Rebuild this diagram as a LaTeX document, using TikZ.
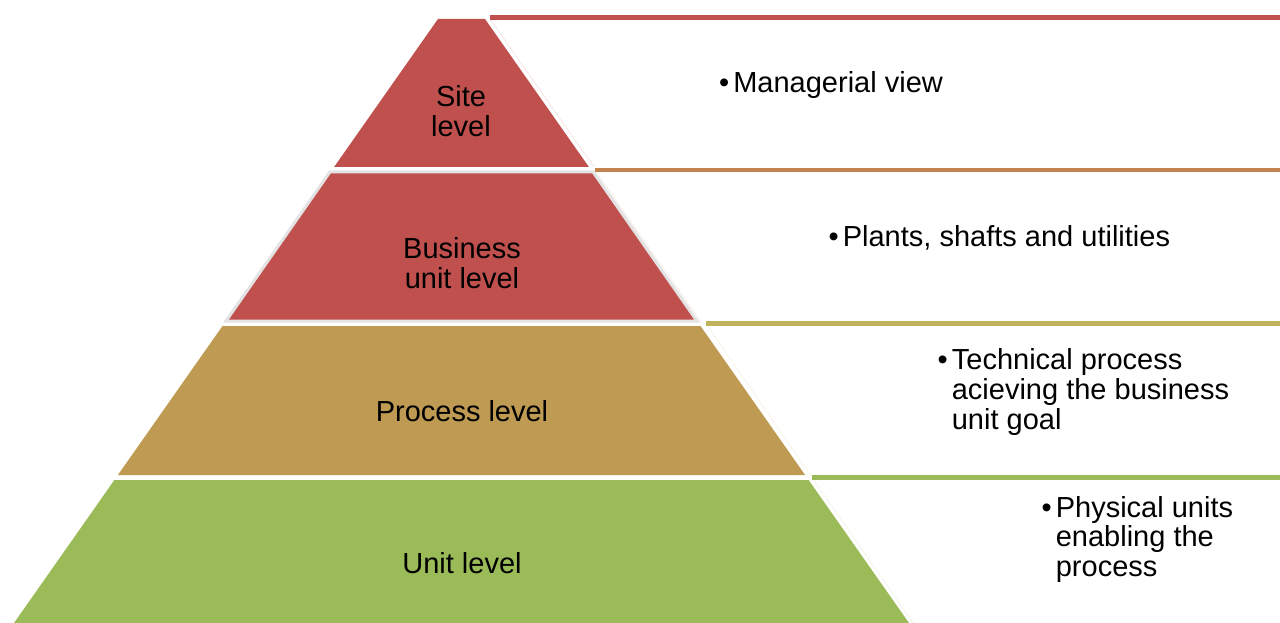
\documentclass[tikz,border=0pt]{standalone}
\usepackage{fontspec}
\setmainfont{Liberation Sans}
\definecolor{sitered}{HTML}{C0504D}
\definecolor{procgold}{HTML}{BE9A52}
\definecolor{unitgreen}{HTML}{9BBB59}
\definecolor{lineorange}{HTML}{C38450}
\definecolor{lineolive}{HTML}{BFB25A}
\definecolor{edgegray}{HTML}{E3E3E3}
\begin{document}
\begin{tikzpicture}[x=1pt,y=-1pt,
  lbl/.style={inner sep=0pt, font=\fontsize{29}{29.7}\selectfont, text=black},
  topline/.style={line width=4.2pt},
  faint/.style={line width=0.8pt}]
\useasboundingbox (0,0) rectangle (1280,623);
\clip (0,0) rectangle (1280,623);
% pyramid bands
\fill[sitered] (438,19) -- (485,19) -- (588.9,167) -- (334.1,167) -- cycle;
\filldraw[fill=sitered, draw=edgegray, line width=3pt, line join=miter]
  (329.9,172) -- (593.1,172) -- (697,321) -- (226,321) -- cycle;
\fill[procgold] (222.5,326) -- (700.5,326) -- (805.1,475) -- (117.9,475) -- cycle;
\fill[unitgreen] (114.4,480) -- (808.6,480) -- (913.9,630) -- (9.1,630) -- cycle;
% faint edges of the text boxes
\draw[faint, sitered!15] (490,19) -- (594,167);
\draw[faint, lineorange!15] (596,172) -- (701,322);
\draw[faint, lineolive!15] (707,325) -- (811,476);
\draw[faint, unitgreen!15] (813,479) -- (918,630);
% coloured top lines of the text boxes
\draw[topline, sitered] (490,17.5) -- (1280,17.5);
\draw[topline, lineorange] (595,170) -- (1280,170);
\draw[topline, lineolive] (706,323.5) -- (1280,323.5);
\draw[topline, unitgreen] (812,477.5) -- (1280,477.5);
% pyramid labels
\node[lbl, anchor=base] (site) at (461,107) {\begin{tabular}[t]{@{}c@{}}Site\\level\end{tabular}};
\node[lbl, anchor=base] (business) at (462,258.5) {\begin{tabular}[t]{@{}c@{}}Business\\unit level\end{tabular}};
\node[lbl, anchor=base] (process) at (462,421) {Process level};
\node[lbl, anchor=base] (unit) at (462,573) {Unit level};
% descriptions
\node[lbl, anchor=base west] (d1) at (719,93)
  {\begin{tabular}[t]{@{}l@{\hspace{4pt}}l@{}}•&Managerial view\end{tabular}};
\node[lbl, anchor=base west] (d2) at (828.5,246.5)
  {\begin{tabular}[t]{@{}l@{\hspace{4pt}}l@{}}•&Plants, shafts and utilities\end{tabular}};
\node[lbl, anchor=base west] (d3) at (937.5,369.5)
  {\begin{tabular}[t]{@{}l@{\hspace{4pt}}l@{}}•&Technical process\\&acieving the business\\&unit goal\end{tabular}};
\node[lbl, anchor=base west] (d4) at (1041.5,517)
  {\begin{tabular}[t]{@{}l@{\hspace{4pt}}l@{}}•&Physical units\\&enabling the\\&process\end{tabular}};
\end{tikzpicture}
\end{document}
